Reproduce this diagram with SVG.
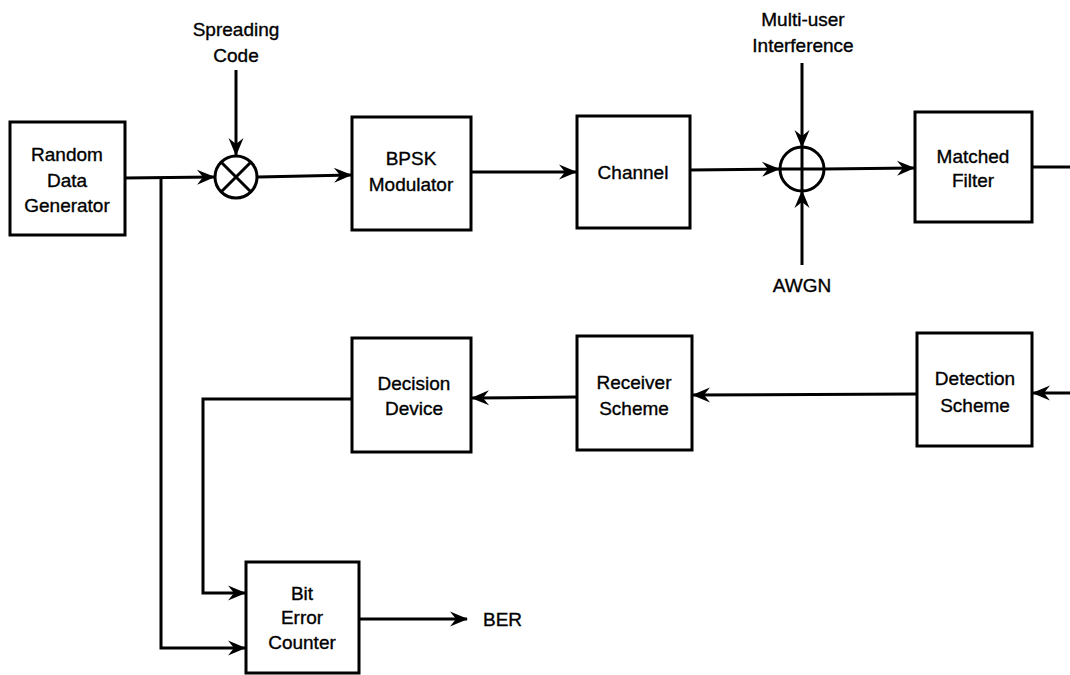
<svg xmlns="http://www.w3.org/2000/svg" width="1070" height="675" viewBox="0 0 1070 675">
<style>
.box{fill:#fff;stroke:#000;stroke-width:3}
.ln{fill:none;stroke:#000;stroke-width:3}
.ar{marker-end:url(#ah)}
text{font-family:"Liberation Sans",Arial,sans-serif;font-size:19px;fill:#000;stroke:#000;stroke-width:0.35;text-anchor:middle}
</style>
<defs>
<marker id="ah" markerUnits="userSpaceOnUse" markerWidth="22" markerHeight="18" viewBox="-19 -9 22 18" refX="0" refY="0" orient="auto">
<path d="M1,0 L-17,-7.5 L-11,0 L-17,7.5 z" fill="#000"/>
</marker>
</defs>
<rect width="1070" height="675" fill="#fff"/>
<g id="connectors">
<line class="ln ar" x1="125" y1="178" x2="214" y2="177"/>
<line class="ln ar" x1="236" y1="70" x2="236" y2="155"/>
<line class="ln ar" x1="258" y1="177" x2="351" y2="175"/>
<line class="ln ar" x1="471" y1="172" x2="576" y2="172"/>
<line class="ln ar" x1="690" y1="170" x2="779" y2="169"/>
<line class="ln ar" x1="802" y1="63" x2="802" y2="147"/>
<line class="ln ar" x1="802" y1="265" x2="802" y2="191"/>
<line class="ln ar" x1="824" y1="169" x2="914" y2="168"/>
<line class="ln" x1="1032" y1="167" x2="1070" y2="167"/>
<line class="ln ar" x1="1070" y1="393" x2="1033" y2="393"/>
<line class="ln ar" x1="917" y1="394" x2="693" y2="395"/>
<line class="ln ar" x1="577" y1="397" x2="472" y2="398"/>
<polyline class="ln ar" points="352,399 203,399 203,593 245,593"/>
<polyline class="ln ar" points="161,178 161,648 245,648"/>
<line class="ln ar" x1="359" y1="619" x2="467" y2="619"/>
</g>
<g id="random-data-generator">
<rect class="box" x="10" y="122" width="115" height="113"/>
<text x="67" y="161">Random</text>
<text x="67" y="187">Data</text>
<text x="67" y="212">Generator</text>
</g>
<g id="spreading-code">
<text x="236" y="36">Spreading</text>
<text x="236" y="62">Code</text>
</g>
<g id="multiplier">
<circle class="box" cx="236" cy="177" r="21"/>
<line class="ln" x1="221" y1="162" x2="251" y2="192"/>
<line class="ln" x1="251" y1="162" x2="221" y2="192"/>
</g>
<g id="bpsk-modulator">
<rect class="box" x="352" y="117" width="119" height="113"/>
<text x="411" y="165">BPSK</text>
<text x="411" y="191">Modulator</text>
</g>
<g id="channel">
<rect class="box" x="577" y="116" width="113" height="112"/>
<text x="633" y="179">Channel</text>
</g>
<g id="multi-user-interference">
<text x="803" y="26">Multi-user</text>
<text x="803" y="52">Interference</text>
</g>
<g id="summer">
<circle class="box" cx="802" cy="169" r="22"/>
<line class="ln" x1="780" y1="169" x2="824" y2="169"/>
<line class="ln" x1="802" y1="147" x2="802" y2="191"/>
</g>
<g id="awgn">
<text x="802" y="292">AWGN</text>
</g>
<g id="matched-filter">
<rect class="box" x="915" y="112" width="117" height="110"/>
<text x="973" y="163">Matched</text>
<text x="973" y="187">Filter</text>
</g>
<g id="detection-scheme">
<rect class="box" x="917" y="333" width="115" height="113"/>
<text x="975" y="385">Detection</text>
<text x="975" y="412">Scheme</text>
</g>
<g id="receiver-scheme">
<rect class="box" x="577" y="336" width="115" height="114"/>
<text x="634" y="389">Receiver</text>
<text x="634" y="415">Scheme</text>
</g>
<g id="decision-device">
<rect class="box" x="352" y="338" width="119" height="114"/>
<text x="414" y="390">Decision</text>
<text x="414" y="415">Device</text>
</g>
<g id="bit-error-counter">
<rect class="box" x="246" y="562" width="113" height="111"/>
<text x="302" y="600">Bit</text>
<text x="302" y="624">Error</text>
<text x="302" y="649">Counter</text>
</g>
<g id="ber">
<text x="483" y="626" style="text-anchor:start">BER</text>
</g>
</svg>
